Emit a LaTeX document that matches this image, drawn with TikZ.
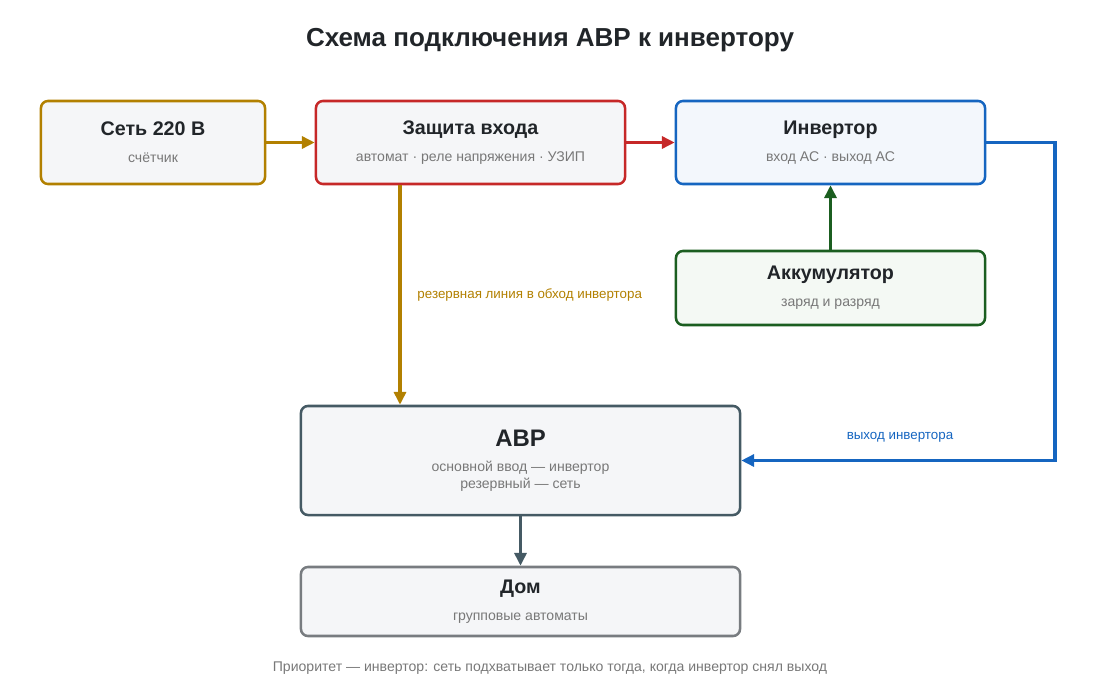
\documentclass[tikz,border=0pt]{standalone}
\usepackage{fontspec}
\setmainfont{Liberation Sans}
\usetikzlibrary{arrows.meta,positioning}
\definecolor{mainsgold}{RGB}{178,128,0}
\definecolor{protred}{RGB}{198,40,40}
\definecolor{invblue}{RGB}{21,101,192}
\definecolor{battgreen}{RGB}{27,94,32}
\definecolor{atsslate}{RGB}{69,90,100}
\definecolor{housegray}{RGB}{120,124,128}
\definecolor{subgray}{RGB}{120,120,120}
\definecolor{titleink}{RGB}{33,37,41}
\definecolor{boxfill}{RGB}{245,246,248}
\definecolor{invfill}{RGB}{243,247,252}
\definecolor{battfill}{RGB}{244,249,244}
\newcommand{\boxtitle}[1]{{\bfseries\fontsize{14}{16}\selectfont\color{titleink}#1}}
\newcommand{\boxsub}[1]{{\fontsize{10}{13}\selectfont\color{subgray}#1}}

\begin{document}
\begin{tikzpicture}[x=0.025cm, y=-0.025cm,
  block/.style={draw, rounded corners=5pt, line width=1.8pt, align=center,
                fill=boxfill, inner sep=0pt},
  arr/.style={-{Triangle[length=3.2mm,width=3mm]}, line width=2.2pt},
  lbl/.style={font=\fontsize{9.5}{11}\selectfont}
]
\useasboundingbox (0,0) rectangle (1100,690);

% ── Title ──
\node[font=\bfseries\fontsize{18.5}{22}\selectfont, text=titleink] (title) at (550,40)
  {Схема подключения АВР к инвертору};

% ── Top row ──
\node[block, draw=mainsgold, minimum width=5.6cm, minimum height=2.075cm] (grid) at (153,142.5)
  {\boxtitle{Сеть 220 В}\\[7pt]\boxsub{счётчик}};
\node[block, draw=protred, minimum width=7.725cm, minimum height=2.075cm] (prot) at (470.5,142.5)
  {\boxtitle{Защита входа}\\[7pt]\boxsub{автомат · реле напряжения · УЗИП}};
\node[block, draw=invblue, fill=invfill, minimum width=7.725cm, minimum height=2.075cm] (inv) at (830.5,142.5)
  {\boxtitle{Инвертор}\\[7pt]\boxsub{вход АС · выход АС}};

% ── Battery ──
\node[block, draw=battgreen, fill=battfill, minimum width=7.725cm, minimum height=1.85cm] (batt) at (830.5,288)
  {\boxtitle{Аккумулятор}\\[7pt]\boxsub{заряд и разряд}};

% ── ATS and house ──
\node[block, draw=atsslate, minimum width=10.975cm, minimum height=2.725cm] (ats) at (520.5,460.5)
  {{\bfseries\fontsize{17}{20}\selectfont\color{titleink}АВР}\\[6pt]\boxsub{основной ввод — инвертор}\\\boxsub{резервный — сеть}};
\node[block, draw=housegray, minimum width=10.975cm, minimum height=1.725cm] (house) at (520.5,601.5)
  {\boxtitle{Дом}\\[7pt]\boxsub{групповые автоматы}};

% ── Connectors ──
\draw[arr, mainsgold] (grid) -- (prot);
\draw[arr, protred] (prot) -- (inv);
\draw[arr, battgreen] (batt) -- (inv);
\draw[arr, mainsgold] (prot.south -| 400,0) -- node[lbl, right=8pt, text=mainsgold, pos=0.5] (bypass) {резервная линия в обход инвертора} (ats.north -| 400,0);
\coordinate (turn1) at (1055,142.5);
\coordinate (turn2) at (1055,460.5);
\draw[arr, invblue] (inv.east) -- (turn1) -- (turn2) -- (ats.east);
\node[lbl, text=invblue] (invout) at (900,437) {выход инвертора};
\draw[arr, atsslate] (ats) -- (house);

% ── Footnote ──
\node[text=subgray, font=\fontsize{10}{12}\selectfont] (note) at (550,668)
  {Приоритет — инвертор: сеть подхватывает только тогда, когда инвертор снял выход};
\end{tikzpicture}
\end{document}
